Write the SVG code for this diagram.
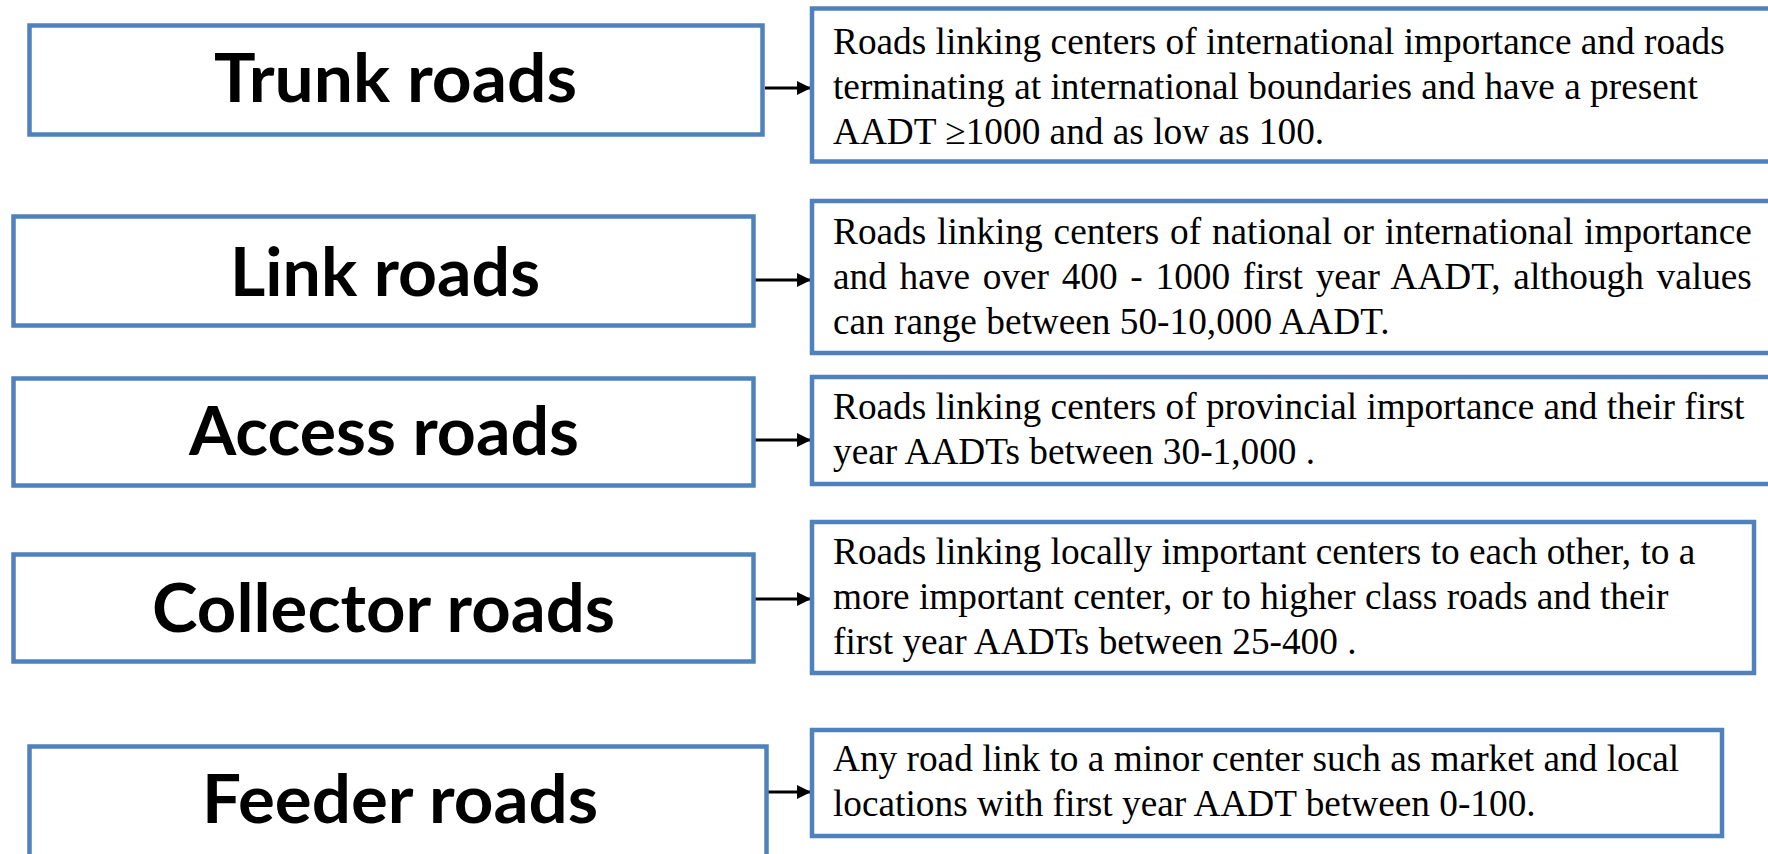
<svg xmlns="http://www.w3.org/2000/svg" width="1768" height="854" viewBox="0 0 1768 854">
<style>
.box{fill:#fff;stroke:#4f81bd;stroke-width:4.5}
.lbl{font-family:Lato,"Open Sans","Liberation Sans",sans-serif;font-weight:bold;font-size:66px;fill:#000;text-anchor:middle}
.desc{font-family:"Liberation Serif","Times New Roman",serif;font-size:37.3px;fill:#000}
.arr{stroke:#000;stroke-width:3;fill:none;marker-end:url(#ah)}
</style>
<defs>
<marker id="ah" markerUnits="userSpaceOnUse" markerWidth="15" markerHeight="14" refX="14" refY="7" orient="auto">
<path d="M0,0 L14,7 L0,14 z" fill="#000"/>
</marker>
</defs>
<rect width="1768" height="854" fill="#fff"/>
<g id="connectors">
<line class="arr" x1="765" y1="88" x2="811" y2="88"/>
<line class="arr" x1="753" y1="280" x2="811" y2="280"/>
<line class="arr" x1="753" y1="440" x2="811" y2="440"/>
<line class="arr" x1="753" y1="599" x2="811" y2="599"/>
<line class="arr" x1="767" y1="792" x2="811" y2="792"/>
</g>
<g id="trunk">
<rect class="box" x="29.5" y="25.5" width="733" height="109"/>
<text class="lbl" x="395.5" y="102" textLength="363" lengthAdjust="spacingAndGlyphs">Trunk roads</text>
</g>
<g id="trunk-desc">
<rect class="box" x="812" y="8.5" width="1000" height="153"/>
<text class="desc" x="833" y="54">Roads linking centers of international importance and roads</text>
<text class="desc" x="833" y="99">terminating at international boundaries and have a present</text>
<text class="desc" x="833" y="144">AADT ≥1000 and as low as 100.</text>
</g>
<g id="link">
<rect class="box" x="13.5" y="216.5" width="740" height="109"/>
<text class="lbl" x="385" y="296" textLength="310" lengthAdjust="spacingAndGlyphs">Link roads</text>
</g>
<g id="link-desc">
<rect class="box" x="812" y="201" width="1000" height="152"/>
<text class="desc" x="833" y="244" word-spacing="1.5">Roads linking centers of national or international importance</text>
<text class="desc" x="833" y="289" word-spacing="3.4">and have over 400 - 1000 first year AADT, although values</text>
<text class="desc" x="833" y="334">can range between 50-10,000 AADT.</text>
</g>
<g id="access">
<rect class="box" x="13.5" y="378.5" width="740" height="107"/>
<text class="lbl" x="384" y="455" textLength="390" lengthAdjust="spacingAndGlyphs">Access roads</text>
</g>
<g id="access-desc">
<rect class="box" x="812" y="377" width="1000" height="107"/>
<text class="desc" x="833" y="419">Roads linking centers of provincial importance and their first</text>
<text class="desc" x="833" y="464">year AADTs between 30-1,000 .</text>
</g>
<g id="collector">
<rect class="box" x="13.5" y="554.5" width="740" height="107"/>
<text class="lbl" x="383.5" y="632" textLength="463" lengthAdjust="spacingAndGlyphs">Collector roads</text>
</g>
<g id="collector-desc">
<rect class="box" x="812" y="522" width="942" height="151"/>
<text class="desc" x="833" y="564">Roads linking locally important centers to each other, to a</text>
<text class="desc" x="833" y="609">more important center, or to higher class roads and their</text>
<text class="desc" x="833" y="654">first year AADTs between 25-400 .</text>
</g>
<g id="feeder">
<rect class="box" x="29.5" y="746.5" width="737" height="160"/>
<text class="lbl" x="400" y="823" textLength="396" lengthAdjust="spacingAndGlyphs">Feeder roads</text>
</g>
<g id="feeder-desc">
<rect class="box" x="812" y="730" width="910" height="106"/>
<text class="desc" x="833" y="771">Any road link to a minor center such as market and local</text>
<text class="desc" x="833" y="816">locations with first year AADT between 0-100.</text>
</g>
</svg>
